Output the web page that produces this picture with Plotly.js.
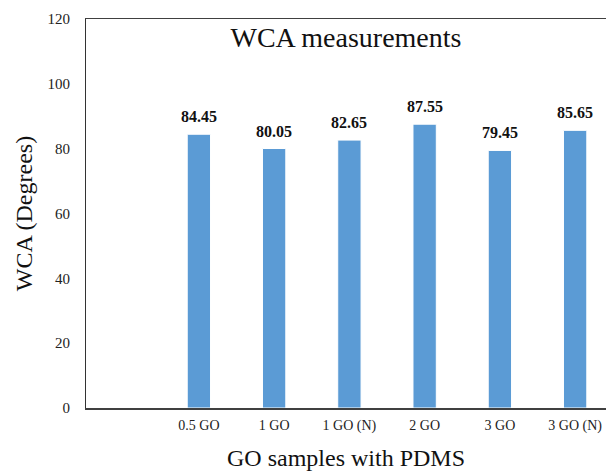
<!DOCTYPE html>
<html>
<head>
<meta charset="utf-8">
<script src="https://cdn.plot.ly/plotly-3.0.1.min.js"></script>
<style>html,body{margin:0;padding:0;background:#fff;}#chart{width:606px;height:471px;}</style>
</head>
<body>
<div id="chart"></div>
<script>
const categories = ["0.5 GO", "1 GO", "1 GO (N)", "2 GO", "3 GO", "3 GO (N)"];
const wca = [84.45, 80.05, 82.65, 87.55, 79.45, 85.65];
const valueLabels = ["84.45", "80.05", "82.65", "87.55", "79.45", "85.65"];
const yTicks = [0, 20, 40, 60, 80, 100, 120];

// first slot (0) is an empty category, as in the reference
const xPos = categories.map((c, i) => i + 1);
const serif = "Liberation Serif";

const trace = {
  type: "bar",
  x: xPos,
  y: wca,
  width: 0.31,
  marker: {color: "#5B9BD5", line: {color: "#ffffff", width: 1}},
  hoverinfo: "skip"
};

const annotations = xPos.map((x, i) => ({
  x: x, y: wca[i], xref: "x", yref: "y",
  text: "<b>" + valueLabels[i] + "</b>",
  showarrow: false, yanchor: "bottom", yshift: 7,
  font: {family: serif, size: 16, color: "#111"}
}));

const layout = {
  width: 606, height: 471,
  margin: {l: 86, r: 0, t: 19, b: 63},
  paper_bgcolor: "#fff", plot_bgcolor: "#fff",
  showlegend: false,
  title: {
    text: "WCA measurements",
    font: {family: serif, size: 28, color: "#111"},
    xref: "paper", x: 0.5, xanchor: "center",
    yref: "paper", y: 0.952, yanchor: "middle"
  },
  xaxis: {
    range: [-0.5, 6.41],
    tickvals: xPos, ticktext: categories,
    tickfont: {family: serif, size: 14, color: "#222"},
    ticks: "outside", ticklen: 4, tickcolor: "rgba(0,0,0,0)",
    showgrid: false, zeroline: false,
    showline: true, linecolor: "#404040", linewidth: 1.5, mirror: true,
    title: {text: "GO samples with PDMS", font: {family: serif, size: 24, color: "#111"}, standoff: 18}
  },
  yaxis: {
    range: [0, 120],
    tickvals: yTicks,
    tickfont: {family: serif, size: 15, color: "#222"},
    ticks: "outside", ticklen: 12, tickcolor: "rgba(0,0,0,0)",
    showgrid: false, zeroline: false,
    showline: true, linecolor: "#333", linewidth: 1, mirror: true,
    title: {text: "WCA (Degrees)", font: {family: serif, size: 24, color: "#111"}, standoff: 8}
  },
  annotations: annotations
};

Plotly.newPlot("chart", [trace], layout, {displayModeBar: false, staticPlot: true});
</script>
</body>
</html>
